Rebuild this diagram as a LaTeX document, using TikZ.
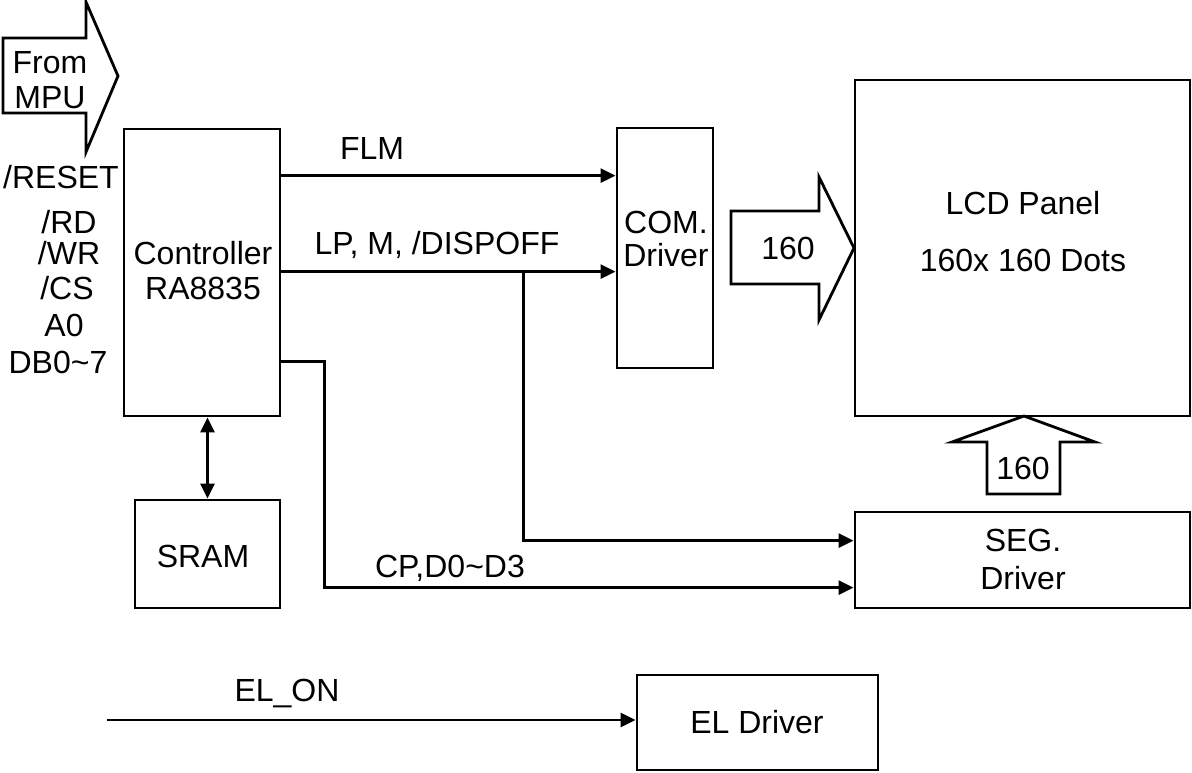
\documentclass[tikz,border=0pt]{standalone}
\usepackage{fontspec}
\setmainfont{Liberation Sans}
\usetikzlibrary{arrows.meta,calc}
\begin{document}
\begin{tikzpicture}[x=1pt,y=-1pt,
  every node/.style={font=\fontsize{32}{35}\selectfont, inner sep=0pt, align=center},
  blk/.style={draw, line width=2.8pt},
  sig/.style={line width=2.8pt, -{Triangle[length=15pt,width=14pt]}},
  fat/.style={draw, line width=2.8pt, line join=miter}]
\useasboundingbox (0,0) rectangle (1192,772);

% big "From MPU" arrow
\draw[fat] (3,38) -- (86,38) -- (86,2) -- (118,76) -- (86,152) -- (86,113) -- (3,113) -- cycle;
\node (mpu) at (50,80) {From\\MPU};

% input labels
\node (reset) at (61,177) {/RESET};
\node (rd) at (69,222) {/RD};
\node (wr) at (69,253) {/WR};
\node (cs) at (67,288) {/CS};
\node (a0) at (64,325) {A0};
\node (db) at (58,362) {DB0\textasciitilde 7};

% blocks
\node[blk, minimum width=156pt, minimum height=287pt] (ctrl) at (202,272.5) {};
\node (ctrltxt) at (203,271) {Controller\\RA8835};
\node[blk, minimum width=145pt, minimum height=108pt] (sram) at (207.5,554) {};
\node (sramtxt) at (203,556) {SRAM};
\node[blk, minimum width=96pt, minimum height=240pt] (com) at (665,248) {};
\node (comtxt) at (666,238.5) {COM.\\[-2pt]Driver};
\node[blk, minimum width=335pt, minimum height=336pt] (lcd) at (1022.5,248) {};
\node (lcdtxt) at (1023,232) {LCD Panel\\[22pt]160x 160 Dots};
\node[blk, minimum width=335pt, minimum height=96pt] (seg) at (1022.5,560) {};
\node (segtxt) at (1023,559) {SEG.\\[3pt]Driver};
\node[blk, minimum width=241pt, minimum height=95pt] (el) at (757.5,722.5) {};
\node (eltxt) at (757,722) {EL Driver};

% 160 arrows
\draw[fat] (731,211) -- (819,211) -- (819,177) -- (854,248) -- (819,320) -- (819,284) -- (731,284) -- cycle;
\node (n160a) at (788,248) {160};
\draw[fat] (987,494) -- (987,442) -- (952,442) -- (1024,416) -- (1095,442) -- (1060,442) -- (1060,494) -- cycle;
\node (n160b) at (1023,468) {160};

% signals
\draw[sig] ([yshift=-48pt]ctrl.north east) -- ([yshift=-48pt]ctrl.north east -| com.west);
\node (flm) at (372,148) {FLM};
\draw[sig] ([yshift=-144pt]ctrl.north east) -- ([yshift=-144pt]ctrl.north east -| com.west);
\node (lp) at (437,245) {LP, M, /DISPOFF};
\coordinate (br) at ($([yshift=-144pt]ctrl.north east)+(242,0)$);
\draw[sig] (br) |- ([yshift=-30pt]seg.north west);
\draw[sig] ([yshift=-234pt]ctrl.north east) -- ++(43,0) |- ([yshift=-77pt]seg.north west);
\node (cp) at (450,568) {CP,D0\textasciitilde D3};
\draw[line width=2.8pt, {Triangle[length=15pt,width=14pt]}-{Triangle[length=15pt,width=14pt]}] (sram.north) -- (sram.north |- ctrl.south);

\coordinate (elin) at (107,720);
\draw[sig] (elin) -- (elin -| el.west);
\node (elon) at (287,693) {EL\_ON};
\end{tikzpicture}
\end{document}
